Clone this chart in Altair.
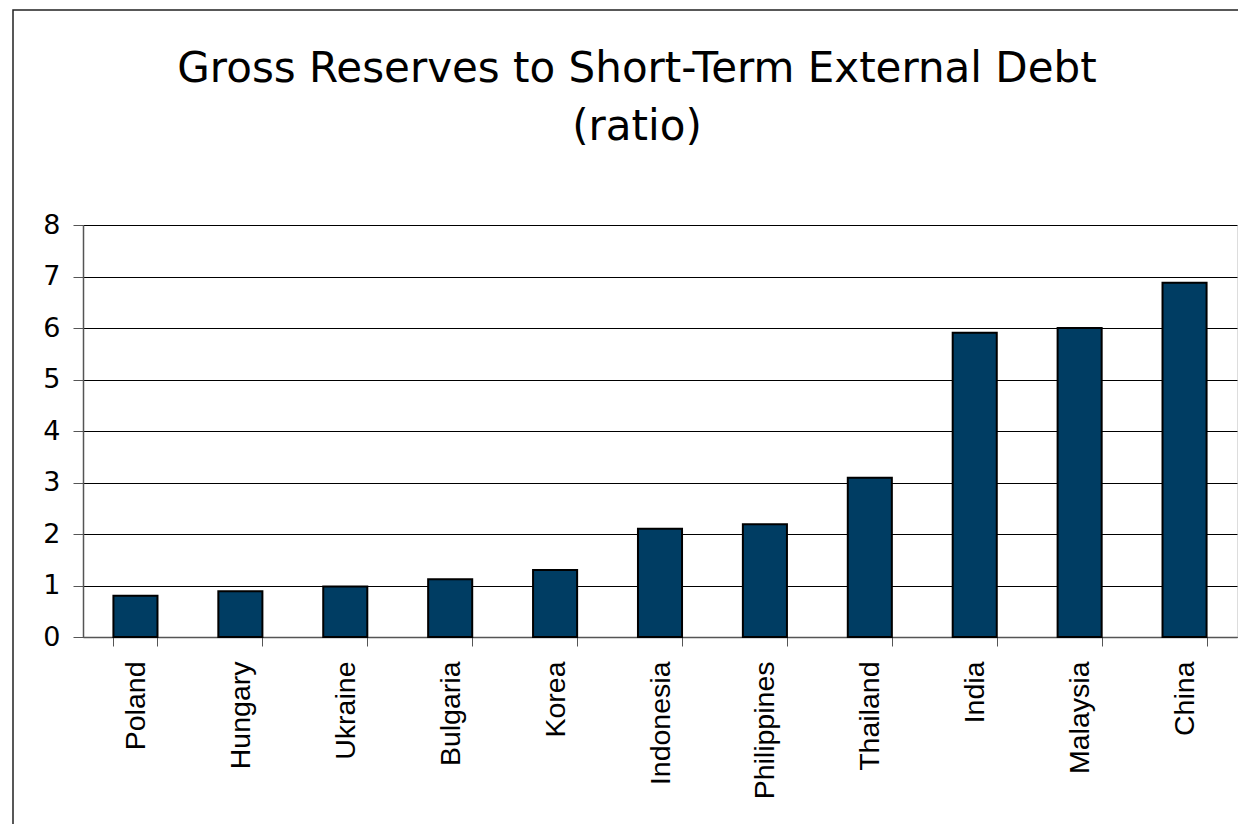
import altair as alt
import pandas as pd

countries = ["Poland", "Hungary", "Ukraine", "Bulgaria", "Korea", "Indonesia",
             "Philippines", "Thailand", "India", "Malaysia", "China"]
values = [0.80, 0.89, 0.98, 1.12, 1.30, 2.10, 2.19, 3.09, 5.91, 6.00, 6.88]
y_ticks = [0, 1, 2, 3, 4, 5, 6, 7, 8]
title_lines = ["Gross Reserves to Short-Term External Debt", "(ratio)"]

df = pd.DataFrame({"country": countries, "value": values})

frame = alt.Chart(pd.DataFrame({"a": [0]})).mark_rect(
    fill="transparent", stroke="#222222", strokeWidth=1.5
).encode(
    x=alt.value(-70), x2=alt.value(1400), y=alt.value(-215), y2=alt.value(800)
)

bars = alt.Chart(df).mark_bar(
    color="#003D63", stroke="#000000", strokeWidth=2
).encode(
    x=alt.X("country:N", sort=countries, title=None,
            scale=alt.Scale(paddingInner=0.58, paddingOuter=0.29),
            axis=alt.Axis(labelAngle=-90, labelAlign="right", labelBaseline="middle",
                          labelFont="Liberation Sans", labelFontSize=28.5, labelColor="#000",
                          labelPadding=15, tickBand="extent", tickSize=9,
                          tickColor="#555", domainColor="#555", domainWidth=1.5)),
    y=alt.Y("value:Q", title=None,
            scale=alt.Scale(domain=[0, 8], nice=False),
            axis=alt.Axis(values=y_ticks, format="d", labelFont="DejaVu Sans",
                          labelFontSize=27, labelColor="#000", labelPadding=13,
                          tickSize=10, tickColor="#555", domainColor="#555",
                          domainWidth=1.5, grid=True, gridColor="#000", gridWidth=1))
)

chart = alt.layer(frame, bars).properties(
    width=1154, height=412,
    title=alt.TitleParams(text=title_lines, font="DejaVu Sans", fontSize=42,
                          fontWeight="normal", color="#000", lineHeight=58,
                          anchor="middle", frame="group", dx=-23, offset=-140),
    autosize=alt.AutoSizeParams(type="none"),
    padding={"left": 83, "top": 225, "right": 1, "bottom": 187},
).configure_view(stroke="#808080", strokeWidth=1.5).configure(background="white")

chart.save("out.html", embed_options={"renderer": "svg", "actions": False})
